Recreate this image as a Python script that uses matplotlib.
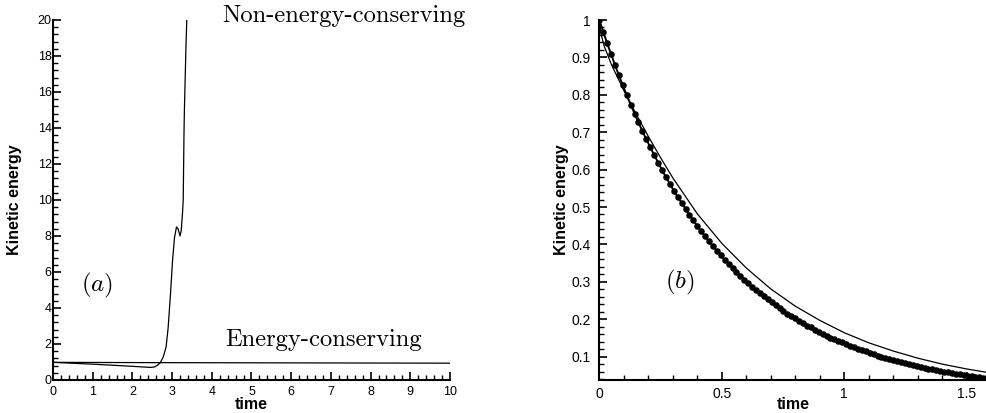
import matplotlib
matplotlib.use("Agg")
import matplotlib.pyplot as plt
from matplotlib.ticker import MultipleLocator, FormatStrFormatter

# ---- panel (a): kinetic energy vs time, long run ----
t_noncons = [0.0, 0.5, 1.0, 1.5, 2.0, 2.3, 2.45, 2.55, 2.62, 2.7, 2.78, 2.85,
             2.9, 2.96, 3.01, 3.06, 3.11, 3.15, 3.2, 3.23, 3.26, 3.28, 3.3,
             3.31, 3.35, 3.37]
ke_noncons = [0.98, 0.93, 0.88, 0.82, 0.76, 0.72, 0.70, 0.72, 0.80, 0.95, 1.30,
              1.85, 2.9, 4.8, 6.6, 7.9, 8.5, 8.4, 8.0, 8.3, 9.2, 10.0, 13.8,
              15.0, 18.6, 20.0]

t_cons = [0.0, 2.5, 5.0, 7.5, 10.0]
ke_cons = [0.98, 0.965, 0.955, 0.945, 0.935]

# ---- panel (b): decay, short run ----
t_dots = [0.000, 0.016, 0.032, 0.048, 0.064, 0.080, 0.096, 0.112, 0.128, 0.144,
          0.160, 0.176, 0.192, 0.208, 0.224, 0.240, 0.256, 0.272, 0.288, 0.304,
          0.320, 0.336, 0.352, 0.368, 0.384, 0.400, 0.416, 0.432, 0.448, 0.464,
          0.480, 0.496, 0.512, 0.528, 0.544, 0.560, 0.576, 0.592, 0.608, 0.624,
          0.640, 0.656, 0.672, 0.688, 0.704, 0.720, 0.736, 0.752, 0.768, 0.784,
          0.800, 0.816, 0.832, 0.848, 0.864, 0.880, 0.896, 0.912, 0.928, 0.944,
          0.960, 0.976, 0.992, 1.008, 1.024, 1.040, 1.056, 1.072, 1.088, 1.104,
          1.120, 1.136, 1.152, 1.168, 1.184, 1.200, 1.216, 1.232, 1.248, 1.264,
          1.280, 1.296, 1.312, 1.328, 1.344, 1.360, 1.376, 1.392, 1.408, 1.424,
          1.440, 1.456, 1.472, 1.488, 1.504, 1.520, 1.536, 1.552, 1.568, 1.584,
          1.600]
ke_dots = [1.000, 0.969, 0.938, 0.909, 0.880, 0.852, 0.825, 0.799, 0.774, 0.750,
           0.726, 0.703, 0.681, 0.660, 0.639, 0.619, 0.599, 0.580, 0.562, 0.544,
           0.527, 0.511, 0.495, 0.479, 0.464, 0.449, 0.435, 0.422, 0.408, 0.395,
           0.383, 0.371, 0.359, 0.348, 0.337, 0.326, 0.316, 0.306, 0.296, 0.287,
           0.278, 0.269, 0.261, 0.253, 0.245, 0.237, 0.229, 0.222, 0.215, 0.208,
           0.202, 0.196, 0.189, 0.183, 0.178, 0.172, 0.167, 0.161, 0.156, 0.151,
           0.147, 0.142, 0.138, 0.133, 0.129, 0.125, 0.121, 0.117, 0.114, 0.110,
           0.107, 0.103, 0.100, 0.097, 0.094, 0.091, 0.088, 0.085, 0.082, 0.080,
           0.077, 0.075, 0.073, 0.070, 0.068, 0.066, 0.064, 0.062, 0.060, 0.058,
           0.056, 0.054, 0.053, 0.051, 0.049, 0.048, 0.046, 0.045, 0.044, 0.042,
           0.041]

t_thin = [0.0, 0.008, 0.02, 0.05, 0.1, 0.15, 0.2, 0.25, 0.3, 0.4, 0.5, 0.6,
          0.7, 0.8, 0.9, 1.0, 1.1, 1.2, 1.3, 1.4, 1.5, 1.6]
ke_thin = [1.0, 0.96, 0.93, 0.88, 0.812, 0.749, 0.689, 0.632, 0.578, 0.482,
           0.403, 0.337, 0.281, 0.235, 0.197, 0.164, 0.137, 0.115, 0.096,
           0.080, 0.067, 0.056]

plt.rcParams["font.family"] = ["Liberation Sans", "DejaVu Sans"]
plt.rcParams["mathtext.fontset"] = "cm"

W, H = 987, 413
fig = plt.figure(figsize=(W / 100, H / 100), dpi=100)


def style_axes(ax, labelsize):
    for side in ("top", "right"):
        ax.spines[side].set_visible(False)
    for side in ("left", "bottom"):
        ax.spines[side].set_linewidth(1.5)
    ax.tick_params(which="both", direction="in", top=False, right=False,
                   labelsize=labelsize, width=1.2)
    ax.tick_params(which="major", length=6)
    ax.tick_params(which="minor", length=3.5, width=1.0)


# panel (a)
ax1 = fig.add_axes([53 / W, 33 / H, 397 / W, 360 / H])
ax1.plot(t_noncons, ke_noncons, color="black", linewidth=0.9)
ax1.plot(t_cons, ke_cons, color="black", linewidth=0.9)
ax1.set_xlim(0, 10)
ax1.set_ylim(0, 20)
ax1.xaxis.set_major_locator(MultipleLocator(1))
ax1.xaxis.set_minor_locator(MultipleLocator(0.2))
ax1.yaxis.set_major_locator(MultipleLocator(2))
ax1.yaxis.set_minor_locator(MultipleLocator(0.4))
style_axes(ax1, 9)
ax1.tick_params(axis="y", pad=1)
ax1.tick_params(axis="x", pad=4)
ax1.set_xlabel("time", fontsize=11.5, fontweight="bold")
ax1.set_ylabel("Kinetic energy", fontsize=11.5, fontweight="bold")
ax1.xaxis.set_label_coords(0.5, -0.047)
ax1.yaxis.set_label_coords(-0.078, 0.5)
ax1.text(4.26, 20.2, "Non-energy-conserving", family="cmr10", fontsize=17.7,
         va="center", ha="left", clip_on=False)
ax1.text(4.33, 2.2, "Energy-conserving", family="cmr10", fontsize=17.7,
         va="center", ha="left")
ax1.text(1.1, 5.26, r"$(a)$", fontsize=18, va="center", ha="center")

# panel (b)
ax2 = fig.add_axes([599.3 / W, 33 / H, (W - 599.3) / W, 360 / H])
ax2.plot(t_thin, ke_thin, color="black", linewidth=0.9)
ax2.plot(t_dots, ke_dots, color="black", linewidth=1.4, marker="o",
         markersize=3.7)
ax2.set_xlim(0, 1.583)
ax2.set_ylim(0.0375, 1.0)
ax2.xaxis.set_major_locator(MultipleLocator(0.5))
ax2.xaxis.set_minor_locator(MultipleLocator(0.1))
ax2.yaxis.set_major_locator(MultipleLocator(0.1))
ax2.yaxis.set_minor_locator(MultipleLocator(0.02))
ax2.xaxis.set_major_formatter(FormatStrFormatter("%g"))
ax2.yaxis.set_major_formatter(FormatStrFormatter("%g"))
style_axes(ax2, 10)
ax2.tick_params(axis="y", pad=6)
ax2.tick_params(axis="x", pad=5)
ax2.set_xlabel("time", fontsize=11.5, fontweight="bold")
ax2.set_ylabel("Kinetic energy", fontsize=11.5, fontweight="bold")
ax2.xaxis.set_label_coords(0.5, -0.047)
ax2.yaxis.set_label_coords(-0.078, 0.5)
ax2.text(0.33, 0.297, r"$(b)$", fontsize=18, va="center", ha="center")

fig.savefig("out.png", dpi=100)
